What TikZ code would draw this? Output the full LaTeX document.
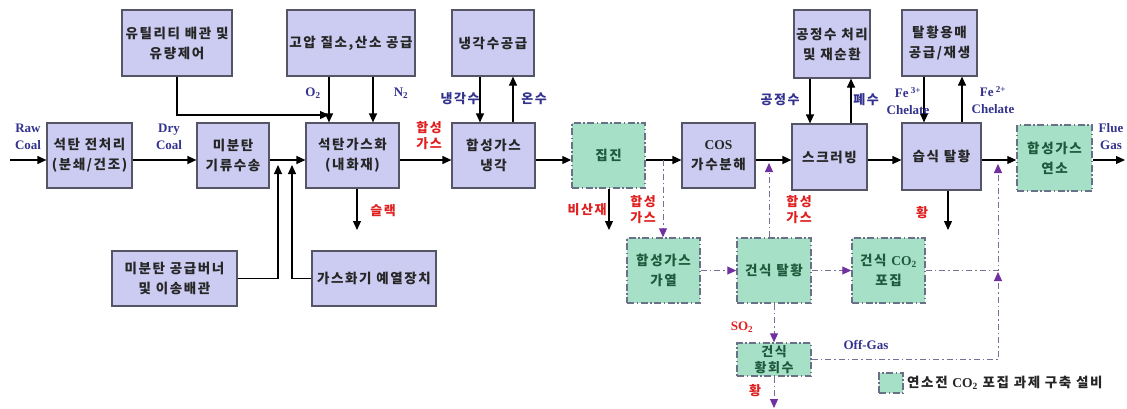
\documentclass[tikz,border=0pt]{standalone}
\usepackage{fontspec}
\setmainfont{Liberation Serif}
\newfontfamily\kr{Noto Sans CJK KR}[LetterSpace=12]
\usetikzlibrary{arrows.meta}
\definecolor{boxfill}{HTML}{CCCCF2}
\definecolor{boxline}{HTML}{555566}
\definecolor{gfill}{HTML}{A6E0C6}
\definecolor{gline}{HTML}{6A7088}
\definecolor{gtext}{HTML}{1F5A3C}
\definecolor{lblue}{HTML}{33338F}
\definecolor{lred}{HTML}{E02020}
\definecolor{pline}{HTML}{7A6E96}
\definecolor{purp}{HTML}{7030A0}
\tikzset{
  bbox/.style={draw=boxline, fill=boxfill, line width=1.2pt, align=center, inner sep=0pt,
    text=black!85, font=\kr\bfseries\fontsize{13.5}{20}\selectfont},
  gbox/.style={draw=gline, fill=gfill, line width=1.5pt, align=center, inner sep=0pt,
    dash pattern=on 7pt off 2.5pt on 1.5pt off 2.5pt,
    text=gtext, font=\kr\bfseries\fontsize{13.5}{20}\selectfont},
  flow/.style={line width=1.2pt, -{Triangle[length=9pt,width=8pt]}},
  pflow/.style={draw=pline, line width=1pt, dash pattern=on 6pt off 3pt on 1.5pt off 3pt,
    -{Triangle[length=9pt,width=8pt,color=purp]}},
  elab/.style={font=\rmfamily\bfseries\fontsize{13}{17}\selectfont, text=lblue, align=center, inner sep=0pt},
  klab/.style={font=\kr\bfseries\fontsize{13}{16}\selectfont, text=lblue, align=center, inner sep=0pt},
  rlab/.style={font=\kr\bfseries\fontsize{13}{16}\selectfont, text=lred, align=center, inner sep=0pt},
}
\newcommand{\lat}[1]{{\rmfamily\bfseries #1}}
\begin{document}
\begin{tikzpicture}[x=1pt,y=-1pt]
\useasboundingbox (0,0) rectangle (1127,408);
% top row
\node[bbox, minimum width=110pt, minimum height=66pt] (util) at (177,43) {유틸리티 배관 및\\유량제어};
\node[bbox, minimum width=128pt, minimum height=66pt] (gsup) at (351,43) {고압 질소,산소 공급};
\node[bbox, minimum width=82pt, minimum height=66pt] (cwat) at (493,43) {냉각수공급};
\node[bbox, minimum width=76pt, minimum height=68pt] (pwat) at (832,44) {공정수 처리\\및 재순환};
\node[bbox, minimum width=75pt, minimum height=66pt] (solv) at (939.5,43) {탈황용매\\공급/재생};
% main row
\node[bbox, minimum width=85pt, minimum height=65pt] (pre) at (89.5,155.5) {석탄 전처리\\(분쇄/건조)};
\node[bbox, minimum width=72pt, minimum height=65pt] (pulv) at (233,155.5) {미분탄\\기류수송};
\node[bbox, minimum width=93pt, minimum height=65pt] (gasi) at (352.5,155.5) {석탄가스화\\(내화재)};
\node[bbox, minimum width=83pt, minimum height=65pt] (cool) at (493.5,155.5) {합성가스\\냉각};
\node[gbox, minimum width=73pt, minimum height=65pt] (dust) at (608.5,155.5) {집진};
\node[bbox, minimum width=73pt, minimum height=65pt] (cos) at (718.5,155.5) {\lat{COS}\\가수분해};
\node[bbox, minimum width=75pt, minimum height=66pt] (scrub) at (829.5,157) {스크러빙};
\node[bbox, minimum width=79pt, minimum height=67pt] (wet) at (941.5,156.5) {습식 탈황};
\node[gbox, minimum width=75pt, minimum height=66pt] (comb) at (1054.5,158) {합성가스\\연소};
% lower
\node[bbox, minimum width=125pt, minimum height=55pt] (burn) at (174.5,278.5) {미분탄 공급버너\\및 이송배관};
\node[bbox, minimum width=124pt, minimum height=55pt] (preh) at (374,278.5) {가스화기 예열장치};
\node[gbox, minimum width=73pt, minimum height=65pt] (heat) at (663.5,270.5) {합성가스\\가열};
\node[gbox, minimum width=74pt, minimum height=65pt] (ddes) at (774,270.5) {건식 탈황};
\node[gbox, minimum width=73pt, minimum height=65pt] (dco2) at (888.5,270.5) {건식 \lat{CO\textsubscript{2}}\\포집};
\node[gbox, minimum width=74pt, minimum height=33pt, font=\kr\bfseries\fontsize{13}{16}\selectfont] (srec) at (774,359.5) {건식\\황회수};
% legend
\node[gbox, minimum width=24pt, minimum height=20pt] (leg) at (891,383) {};
\node[anchor=west, inner sep=0pt, font=\kr\bfseries\fontsize{13.5}{15}\selectfont, text=black!85] (legt) at (907,383) {연소전 \lat{CO\textsubscript{2}} 포집 과제 구축 설비};
% coordinates
\coordinate (fy) at (0,160);
\coordinate (rawin) at (10,160);
\coordinate (j1) at (278,165);
\coordinate (j2) at (292,165);
\coordinate (o2in) at (329,115);
\coordinate (n2x) at (373,0);
\coordinate (slag) at (357,230);
\coordinate (cwx) at (480,0);
\coordinate (hwx) at (513,0);
\coordinate (ash) at (609,230);
\coordinate (br1) at (663,160);
\coordinate (br2) at (769,163);
\coordinate (pwx) at (810,0);
\coordinate (wwx) at (851,0);
\coordinate (f3x) at (924,0);
\coordinate (f2x) at (962,0);
\coordinate (sul1) at (948,230);
\coordinate (flue) at (1125,160);
\coordinate (off1) at (998,272);
\coordinate (off2) at (998,164);
\coordinate (sul2) at (774,408);
% main flows
\draw[flow] (rawin) -- (pre.west |- rawin);
\draw[flow] (pre.east |- fy) -- (pulv.west |- fy);
\draw[flow] (pulv.east |- fy) -- (gasi.west |- fy);
\draw[flow] (burn.east) -| (j1);
\draw[flow] (preh.west) -| (j2);
\draw[flow] (util.south) |- (o2in);
\draw[flow] (gsup.south -| o2in) -- (gasi.north -| o2in);
\draw[flow] (gsup.south -| n2x) -- (gasi.north -| n2x);
\draw[flow] (gasi.east |- fy) -- (cool.west |- fy);
\draw[flow] (gasi.south -| slag) -- (slag);
\draw[flow] (cwat.south -| cwx) -- (cool.north -| cwx);
\draw[flow] (cool.north -| hwx) -- (cwat.south -| hwx);
\draw[flow] (cool.east |- fy) -- (dust.west |- fy);
\draw[flow] (dust.east |- fy) -- (cos.west |- fy);
\draw[flow] (dust.south -| ash) -- (ash);
\draw[flow] (cos.east |- fy) -- (scrub.west |- fy);
\draw[flow] (pwat.south -| pwx) -- (scrub.north -| pwx);
\draw[flow] (scrub.north -| wwx) -- (pwat.south -| wwx);
\draw[flow] (scrub.east |- fy) -- (wet.west |- fy);
\draw[flow] (solv.south -| f3x) -- (wet.north -| f3x);
\draw[flow] (wet.north -| f2x) -- (solv.south -| f2x);
\draw[flow] (wet.south -| sul1) -- (sul1);
\draw[flow] (wet.east |- fy) -- (comb.west |- fy);
\draw[flow] (comb.east |- fy) -- (flue);
% purple dash-dot flows
\draw[pflow] (br1) -- (heat.north -| br1);
\draw[pflow] (ddes.north -| br2) -- (br2);
\draw[pflow] (heat.east) -- (ddes.west);
\draw[pflow] (ddes.east) -- (dco2.west);
\draw[pflow] (ddes.south) -- (srec.north);
\draw[pflow] (srec.south) -- (sul2);
\draw[pflow] (srec.east) -| (off1);
\draw[pflow] (dco2.east) -| (off2);
% labels
\node[elab] (lraw) at (28,137) {Raw\\Coal};
\node[elab] (ldry) at (169,137) {Dry\\Coal};
\node[elab] (lo2) at (313,93) {O\textsubscript{2}};
\node[elab] (ln2) at (401,93) {N\textsubscript{2}};
\node[rlab] (lsyn1) at (429,136) {합성\\가스};
\node[klab] (lcw) at (460,99) {냉각수};
\node[klab] (lhw) at (534,99) {온수};
\node[rlab] (lslag) at (383,211) {슬랙};
\node[rlab] (lash) at (587,210) {비산재};
\node[rlab] (lsyn2) at (643,210) {합성\\가스};
\node[rlab] (lsyn3) at (799,210) {합성\\가스};
\node[klab] (lpw) at (780,100) {공정수};
\node[klab] (lww) at (866,100) {폐수};
\node[elab] (lfe3) at (908,101) {Fe\,\textsuperscript{3+}\\Chelate};
\node[elab] (lfe2) at (993,100) {Fe\,\textsuperscript{2+}\\Chelate};
\node[elab] (lflue) at (1111,137) {Flue\\Gas};
\node[rlab] (lsul1) at (922,213) {황};
\node[rlab, font=\rmfamily\bfseries\fontsize{13}{15}\selectfont] (lso2) at (742,327) {SO\textsubscript{2}};
\node[elab] (loff) at (866,345) {Off-Gas};
\node[rlab] (lsul2) at (755,391) {황};
\end{tikzpicture}
\end{document}
